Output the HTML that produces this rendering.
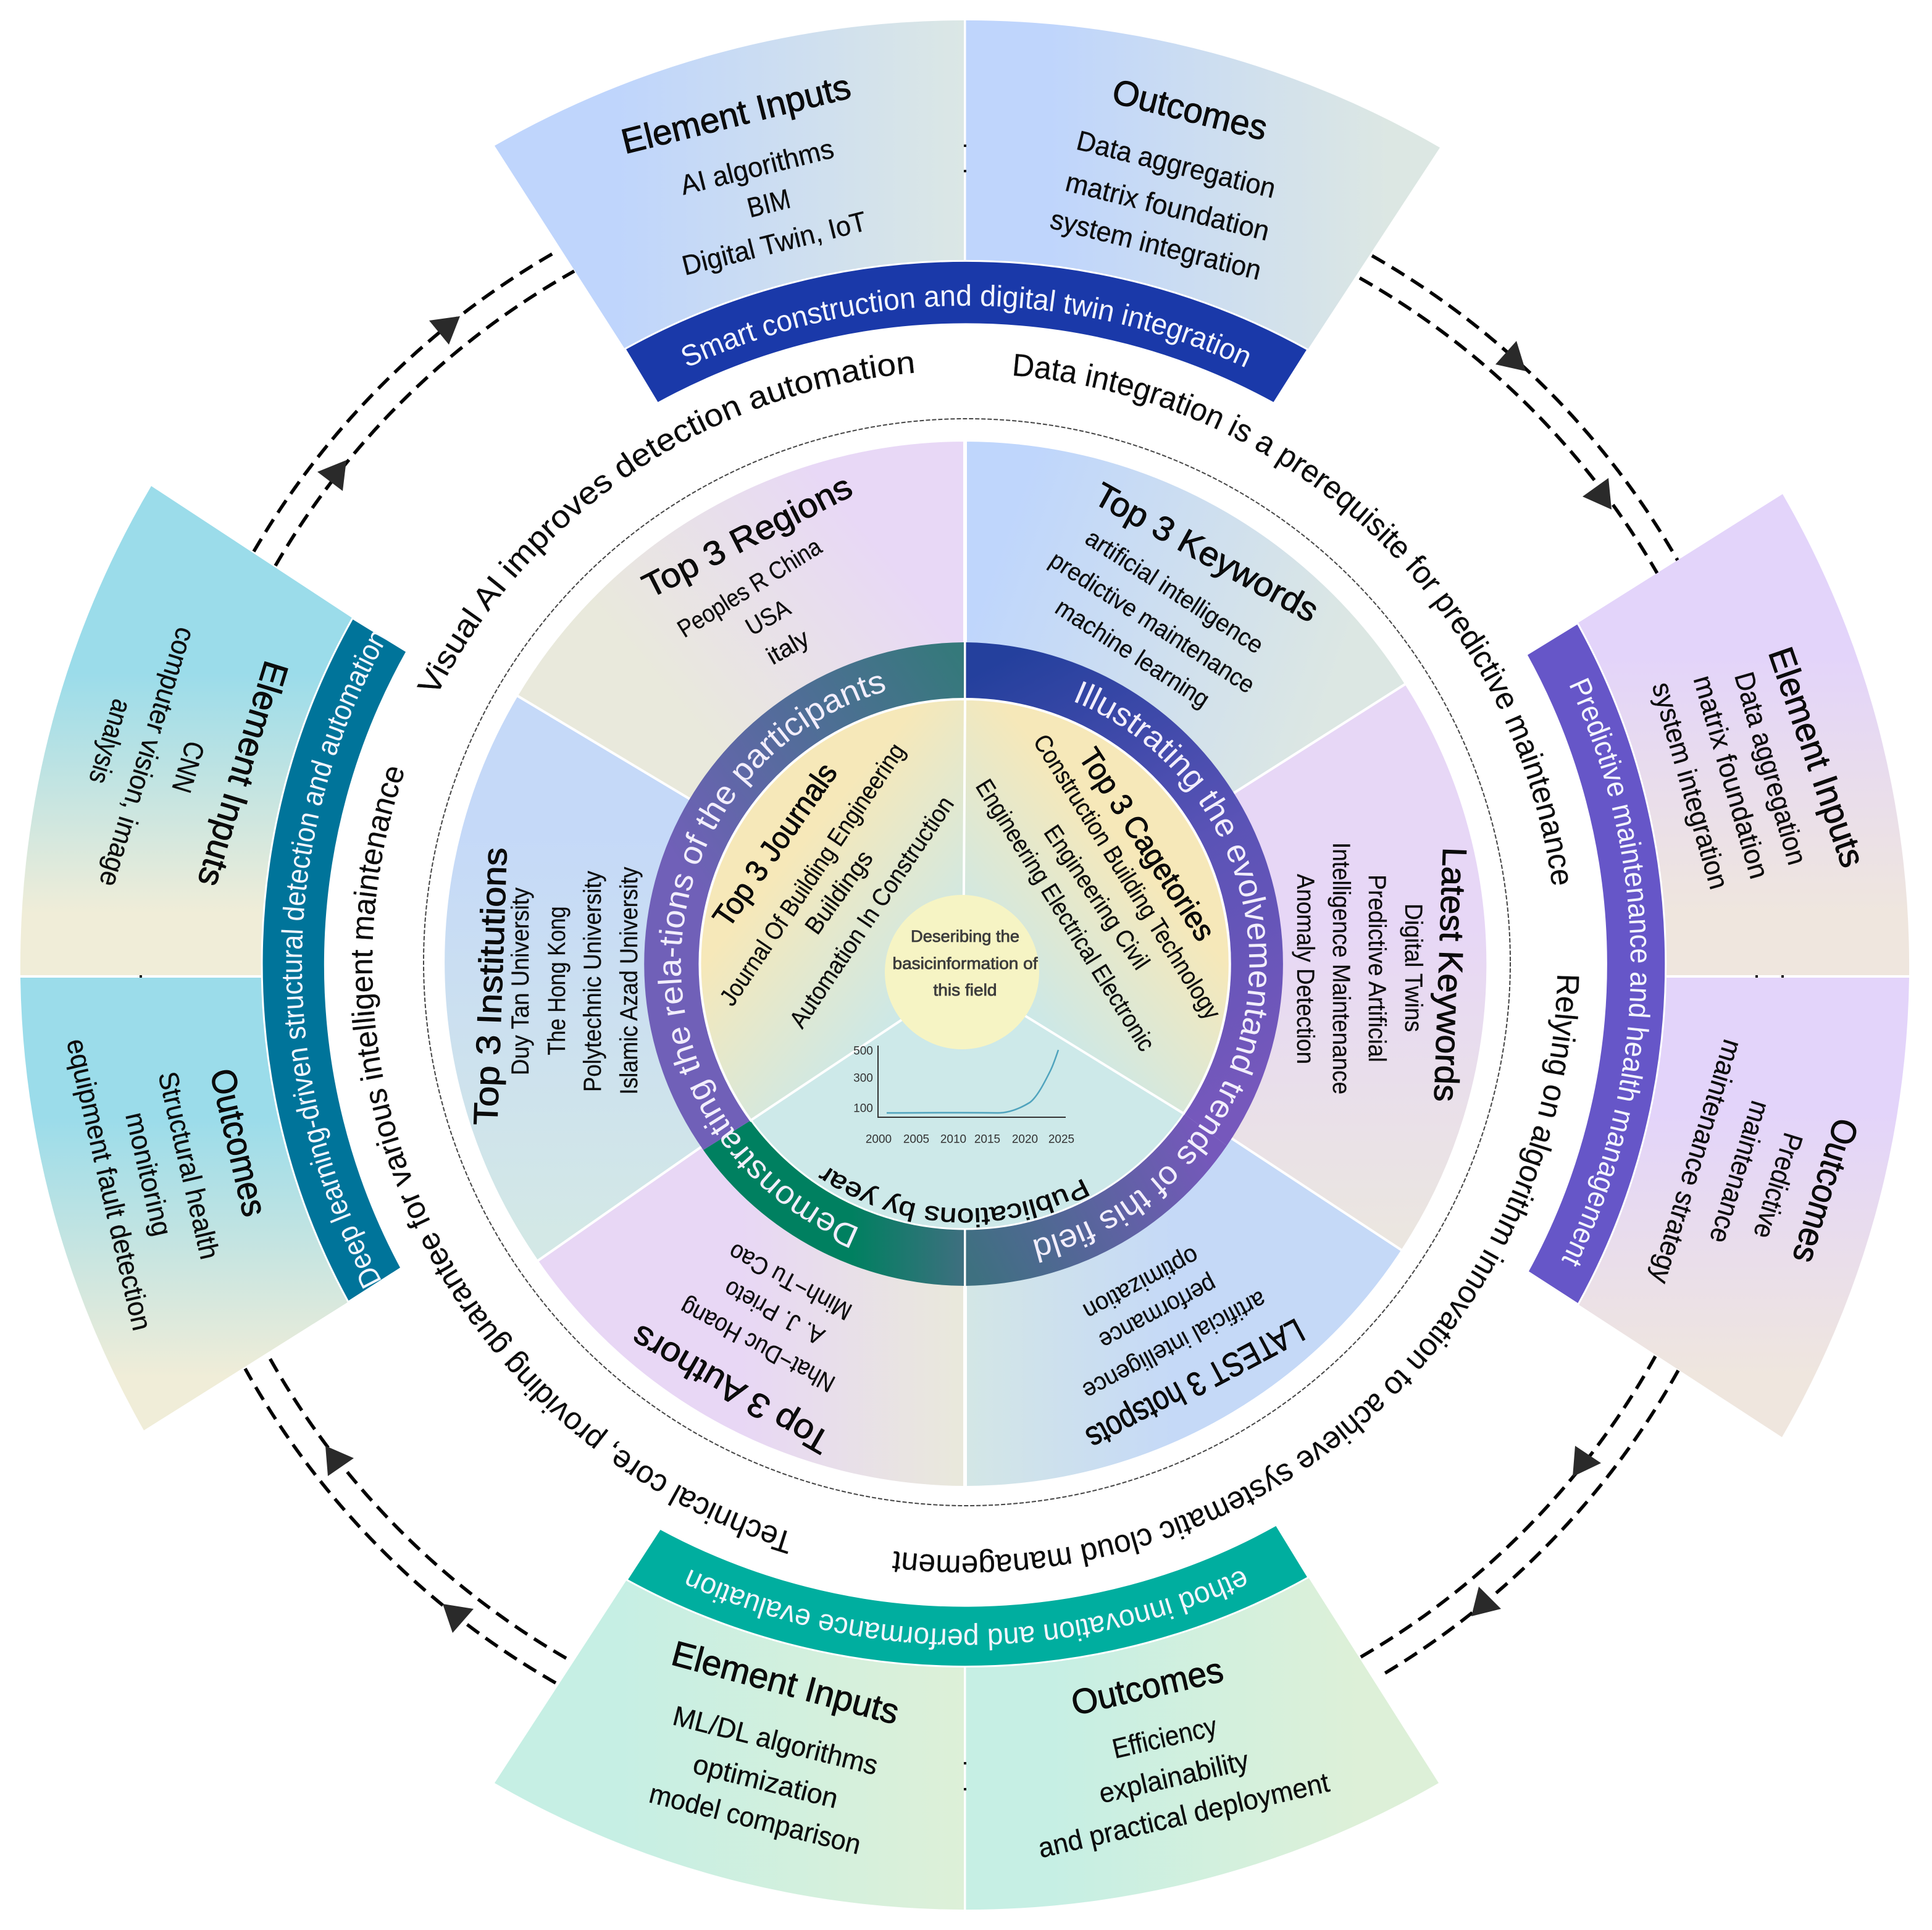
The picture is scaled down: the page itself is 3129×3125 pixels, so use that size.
<!DOCTYPE html>
<html><head><meta charset="utf-8"><title>Diagram</title>
<style>
html,body{margin:0;padding:0;background:#fff}
svg{display:block}
text{font-family:"Liberation Sans","DejaVu Sans",sans-serif;text-anchor:middle;fill:#0c0c0c}
.c text,text.c{dominant-baseline:central}
.t{font-size:57px;stroke:#000;stroke-width:.9px}
.b{font-size:45px;stroke:#000;stroke-width:.3px}
.mt{font-size:55px;stroke:#000;stroke-width:.9px}
.m{font-size:40px;stroke:#000;stroke-width:.25px}
.w{fill:#f4f6ff;font-size:48px}
.r{font-size:51px;stroke:#000;stroke-width:.2px}
.rw{fill:#f2eefc;font-size:53px}
.ch{font-size:19px;fill:#333}
.h{font-size:27px;fill:#3c3c3c;stroke:#3c3c3c;stroke-width:.8px}
.arc{fill:none;stroke:#000;stroke-width:5.5;stroke-dasharray:24 13}
</style></head><body>
<svg xmlns="http://www.w3.org/2000/svg" width="3129" height="3125" viewBox="0 0 3129 3125">
<defs>
<linearGradient id="gTop" gradientUnits="userSpaceOnUse" x1="1000" y1="0" x2="1560" y2="0"><stop offset="0" stop-color="#bfd5fc"/><stop offset="1" stop-color="#dbe7e5"/></linearGradient>
<linearGradient id="gTop2" gradientUnits="userSpaceOnUse" x1="1700" y1="0" x2="2250" y2="0"><stop offset="0" stop-color="#bfd5fc"/><stop offset="1" stop-color="#dce7e3"/></linearGradient>
<linearGradient id="gL1" gradientUnits="userSpaceOnUse" x1="0" y1="1090" x2="0" y2="1480"><stop offset="0" stop-color="#9bdcea"/><stop offset="1" stop-color="#f0edd8"/></linearGradient>
<linearGradient id="gL2" gradientUnits="userSpaceOnUse" x1="0" y1="1810" x2="0" y2="2230"><stop offset="0" stop-color="#9bdcea"/><stop offset="1" stop-color="#f0edd8"/></linearGradient>
<linearGradient id="gR1" gradientUnits="userSpaceOnUse" x1="0" y1="1060" x2="0" y2="1480"><stop offset="0" stop-color="#e3d4fa"/><stop offset="1" stop-color="#efe6de"/></linearGradient>
<linearGradient id="gR2" gradientUnits="userSpaceOnUse" x1="0" y1="1800" x2="0" y2="2230"><stop offset="0" stop-color="#e3d4fa"/><stop offset="1" stop-color="#efe6de"/></linearGradient>
<linearGradient id="gB1" gradientUnits="userSpaceOnUse" x1="1000" y1="0" x2="1560" y2="0"><stop offset="0" stop-color="#c6efe4"/><stop offset="1" stop-color="#ddf0d8"/></linearGradient>
<linearGradient id="gB2" gradientUnits="userSpaceOnUse" x1="1700" y1="0" x2="2200" y2="0"><stop offset="0" stop-color="#c6efe4"/><stop offset="1" stop-color="#ddf0d8"/></linearGradient>
<linearGradient id="sTR" gradientUnits="userSpaceOnUse" x1="1650" y1="800" x2="2200" y2="1000"><stop offset="0" stop-color="#bfd6fc"/><stop offset="1" stop-color="#dce7e3"/></linearGradient>
<linearGradient id="sR" gradientUnits="userSpaceOnUse" x1="0" y1="1500" x2="0" y2="2000"><stop offset="0" stop-color="#e7d7f6"/><stop offset="1" stop-color="#ebe6e0"/></linearGradient>
<linearGradient id="sLR" gradientUnits="userSpaceOnUse" x1="1570" y1="0" x2="1900" y2="0"><stop offset="0" stop-color="#d3e6e6"/><stop offset="1" stop-color="#c5d9f7"/></linearGradient>
<linearGradient id="sLL" gradientUnits="userSpaceOnUse" x1="1200" y1="0" x2="1550" y2="0"><stop offset="0" stop-color="#e8d7f5"/><stop offset="1" stop-color="#e9e8dc"/></linearGradient>
<linearGradient id="sL" gradientUnits="userSpaceOnUse" x1="0" y1="1350" x2="0" y2="2000"><stop offset="0" stop-color="#c5d9f8"/><stop offset="1" stop-color="#d3e8e6"/></linearGradient>
<linearGradient id="sTL" gradientUnits="userSpaceOnUse" x1="1400" y1="850" x2="1080" y2="1120"><stop offset="0" stop-color="#e8d8f6"/><stop offset="1" stop-color="#e9e9dc"/></linearGradient>
<linearGradient id="rTR" gradientUnits="userSpaceOnUse" x1="1600" y1="1080" x2="1980" y2="1800"><stop offset="0" stop-color="#24409d"/><stop offset=".5" stop-color="#5a53b6"/><stop offset="1" stop-color="#7658bc"/></linearGradient>
<linearGradient id="rBR" gradientUnits="userSpaceOnUse" x1="1950" y1="1850" x2="1566" y2="2040"><stop offset="0" stop-color="#7558bb"/><stop offset="1" stop-color="#3e7080"/></linearGradient>
<linearGradient id="rBL" gradientUnits="userSpaceOnUse" x1="1380" y1="0" x2="1563" y2="0"><stop offset="0" stop-color="#008060"/><stop offset="1" stop-color="#3f6f80"/></linearGradient>
<linearGradient id="rL" gradientUnits="userSpaceOnUse" x1="1563" y1="1080" x2="1100" y2="1400"><stop offset="0" stop-color="#35797b"/><stop offset="1" stop-color="#7060b8"/></linearGradient>
<linearGradient id="iL" gradientUnits="userSpaceOnUse" x1="1270" y1="1400" x2="1500" y2="1590"><stop offset="0" stop-color="#f6e8b9"/><stop offset="1" stop-color="#cde8e6"/></linearGradient>
<linearGradient id="iR" gradientUnits="userSpaceOnUse" x1="1850" y1="1400" x2="1630" y2="1590"><stop offset="0" stop-color="#f6e8b9"/><stop offset="1" stop-color="#cde8e6"/></linearGradient>
<path id="p1067" d="M1565,495 A1067 1067 0 1 1 1565,2629 A1067 1067 0 1 1 1565,495 A1067 1067 0 1 1 1565,2629 A1067 1067 0 1 1 1565,495"/>
<path id="p1076" d="M1565,486 A1076 1076 0 1 1 1565,2638 A1076 1076 0 1 1 1565,486 A1076 1076 0 1 1 1565,2638 A1076 1076 0 1 1 1565,486"/>
<path id="p957" d="M1565,605 A957 957 0 1 1 1565,2519 A957 957 0 1 1 1565,605 A957 957 0 1 1 1565,2519 A957 957 0 1 1 1565,605"/>
<path id="p962" d="M1565,600 A962 962 0 1 1 1565,2524 A962 962 0 1 1 1565,600 A962 962 0 1 1 1565,2524 A962 962 0 1 1 1565,600"/>
<path id="p460" d="M1563,1101 A460 460 0 1 1 1563,2021 A460 460 0 1 1 1563,1101 A460 460 0 1 1 1563,2021 A460 460 0 1 1 1563,1101"/>
<path id="p390" d="M1563,1165 A396 396 0 1 1 1563,1957 A396 396 0 1 1 1563,1165 A396 396 0 1 1 1563,1957 A396 396 0 1 1 1563,1165"/>
<clipPath id="cLB"><path d="M571,1001 A1140 1140 0 0 0 564,2108 L650,2053 A1036 1036 0 0 1 659,1055 Z"/></clipPath>
</defs>
<rect width="3129" height="3125" fill="#fff"/>

<!-- dashed connectors -->
<path class="arc" d="M411,893 A1330 1330 0 0 1 905,405"/>
<path class="arc" d="M446,916 A1290 1290 0 0 1 930,439"/>
<path class="arc" d="M2222,414 A1330 1330 0 0 1 2718,909"/>
<path class="arc" d="M2202,450 A1290 1290 0 0 1 2685,930"/>
<path class="arc" d="M2718,2219 A1327 1327 0 0 1 2235,2714"/>
<path class="arc" d="M2681,2196 A1285 1285 0 0 1 2202,2684"/>
<path class="arc" d="M900,2725 A1330 1330 0 0 1 397,2216"/>
<path class="arc" d="M917,2685 A1290 1290 0 0 1 434,2194"/>
<g fill="#2a2a2a">
<polygon points="695,519 745,512 727,558"/><polygon points="514,764 561,745 555,795"/>
<polygon points="2456,552 2471,601 2422,590"/><polygon points="2605,774 2610,825 2563,804"/>
<polygon points="2551,2341 2593,2369 2547,2391"/><polygon points="2395,2569 2431,2605 2383,2617"/>
<polygon points="527,2341 573,2361 531,2390"/><polygon points="717,2597 767,2605 733,2644"/>
</g>

<!-- outer sectors -->
<path fill="url(#gTop)" d="M801,236 A1530 1530 0 0 1 1561,33 L1561,421 A1140 1140 0 0 0 1012,565 Z"/>
<path fill="url(#gTop2)" d="M1564.5,33 A1530 1530 0 0 1 2332,239 L2118,566 A1140 1140 0 0 0 1564.5,421 Z"/>
<path fill="#1a39a9" stroke="#fff" stroke-width="3" d="M1012,565 A1140 1140 0 0 1 2118,566 L2063,653 A1036 1036 0 0 0 1065,653 Z"/>
<path fill="url(#gB1)" d="M801,2887 A1530 1530 0 0 0 1561,3092 L1561,2699 A1140 1140 0 0 1 1015,2558 Z"/>
<path fill="url(#gB2)" d="M1564.5,3092 A1530 1530 0 0 0 2330,2887 L2119,2554 A1140 1140 0 0 1 1564.5,2699 Z"/>
<path fill="#00ae9f" stroke="#fff" stroke-width="3" d="M1015,2558 A1140 1140 0 0 0 2119,2554 L2067,2469 A1036 1036 0 0 1 1069,2475 Z"/>
<path fill="url(#gL1)" d="M245,787 A1530 1530 0 0 0 33,1579 L426,1579 A1140 1140 0 0 1 571,1001 Z"/>
<path fill="url(#gL2)" d="M33,1583 A1530 1530 0 0 0 233,2316 L564,2108 A1140 1140 0 0 1 426,1583 Z"/>
<path fill="#00749a" stroke="#fff" stroke-width="3" d="M571,1001 A1140 1140 0 0 0 564,2108 L650,2053 A1036 1036 0 0 1 659,1055 Z"/>
<path fill="url(#gR1)" d="M2887,800 A1530 1530 0 0 1 3092,1579 L2698,1579 A1140 1140 0 0 0 2555,1009 Z"/>
<path fill="url(#gR2)" d="M3092,1583 A1530 1530 0 0 1 2886,2327 L2556,2112 A1140 1140 0 0 0 2698,1583 Z"/>
<path fill="#6656c8" stroke="#fff" stroke-width="3" d="M2555,1009 A1140 1140 0 0 1 2556,2112 L2474,2059 A1036 1036 0 0 0 2472,1060 Z"/>
<g fill="#111">
<rect x="1561" y="234" width="4" height="4"/><rect x="1561" y="275" width="4" height="4"/>
<rect x="1561" y="2853" width="4" height="4"/><rect x="1561" y="2895" width="4" height="4"/>
<rect x="226" y="1579" width="4" height="4"/><rect x="2843" y="1579" width="4" height="4"/><rect x="2885" y="1579" width="4" height="4"/>
</g>

<!-- dashed guide circle -->
<circle cx="1566" cy="1558" r="880" fill="none" stroke="#444" stroke-width="2" stroke-dasharray="7 3"/>

<!-- six middle sectors -->
<g stroke="#fff" stroke-width="4">
<path fill="url(#sTR)" d="M1564,713 A846 846 0 0 1 2277,1107 L1564,1560 Z"/>
<path fill="url(#sR)" d="M2277,1107 A846 846 0 0 1 2271,2025 L1564,1560 Z"/>
<path fill="url(#sLR)" d="M2271,2025 A846 846 0 0 1 1564,2408 L1564,1560 Z"/>
<path fill="url(#sLL)" d="M1562,2408 A846 846 0 0 1 870,2042 L1562,1560 Z"/>
<path fill="url(#sL)" d="M870,2042 A846 846 0 0 1 837,1126 L1562,1560 Z"/>
<path fill="url(#sTL)" d="M837,1126 A846 846 0 0 1 1562,713 L1562,1560 Z"/>
</g>

<!-- ring -->
<path fill="url(#rTR)" d="M1564.5,1040 A521 521 0 0 1 1987,1855 L1917,1803 A430 430 0 0 0 1564.5,1131 Z"/>
<path fill="url(#rBR)" d="M1987,1855 A521 521 0 0 1 1564.5,2082 L1564.5,1991 A430 430 0 0 0 1917,1803 Z"/>
<path fill="url(#rBL)" d="M1561,2082 A521 521 0 0 1 1139,1862 L1216,1814 A430 430 0 0 0 1561,1991 Z"/>
<path fill="url(#rL)" d="M1139,1862 A521 521 0 0 1 1561,1040 L1561,1131 A430 430 0 0 0 1216,1814 Z"/>

<!-- inner disc -->
<circle cx="1563" cy="1561" r="429" fill="#cde9e9" stroke="#fff" stroke-width="3"/>
<path fill="url(#iL)" stroke="#fff" stroke-width="4" d="M1563,1132 L1563,1583 L1216,1814 A429 429 0 0 1 1563,1132 Z"/>
<path fill="url(#iR)" stroke="#fff" stroke-width="4" d="M1563,1132 A429 429 0 0 1 1917,1803 L1560,1583 L1563,1132 Z"/>
<circle cx="1558" cy="1574" r="125" fill="#f6f4c4"/>

<!-- chart -->
<path d="M1422,1693 V1809 H1726" fill="none" stroke="#333" stroke-width="2"/>
<path d="M1436,1802 C1500,1802 1560,1801 1616,1802 C1632,1802 1650,1796 1668,1785 C1680,1776 1692,1752 1701,1734 C1706,1724 1710,1712 1714,1700" fill="none" stroke="#4fa3bd" stroke-width="2.5"/>
<g class="c">
<text class="ch" x="1398" y="1702">500</text><text class="ch" x="1398" y="1746">300</text><text class="ch" x="1398" y="1795">100</text>
<text class="ch" x="1423" y="1845">2000</text><text class="ch" x="1484" y="1845">2005</text><text class="ch" x="1544" y="1845">2010</text><text class="ch" x="1599" y="1845">2015</text><text class="ch" x="1660" y="1845">2020</text><text class="ch" x="1719" y="1845">2025</text>
<text class="h" x="1563" y="1516" textLength="176" lengthAdjust="spacingAndGlyphs">Deseribing the</text>
<text class="h" x="1563" y="1560" textLength="235" lengthAdjust="spacingAndGlyphs">basicinformation of</text>
<text class="h" x="1563" y="1603" textLength="103" lengthAdjust="spacingAndGlyphs">this field</text>
</g>

<!-- curved labels -->
<text class="w"><textPath href="#p1067" startOffset="50%" textLength="935" lengthAdjust="spacingAndGlyphs">Smart construction and digital twin integration</textPath></text>
<text class="w"><textPath href="#p1076" startOffset="12.6%" textLength="965" lengthAdjust="spacingAndGlyphs">Predictive maintenance and health management</textPath></text>
<g clip-path="url(#cLB)"><text class="w"><textPath href="#p1076" startOffset="37.58%" textLength="1090" lengthAdjust="spacingAndGlyphs">Deep learning-driven structural detection and automation</textPath></text></g>
<text class="w"><textPath href="#p1076" startOffset="25%" textLength="925" lengthAdjust="spacingAndGlyphs">ethod innovation and performance evaluation</textPath></text>
<text class="r"><textPath href="#p957" startOffset="6.03%" textLength="1304" lengthAdjust="spacingAndGlyphs">Data integration is a prerequisite for predictive maintenance</textPath></text>
<text class="r"><textPath href="#p957" startOffset="19.3%" textLength="1607" lengthAdjust="spacingAndGlyphs">Relying on algorithm innovation to achieve systematic cloud management</textPath></text>
<text class="r"><textPath href="#p962" startOffset="33.75%" textLength="1551" lengthAdjust="spacingAndGlyphs">Technical core, providing guarantee for various intelligent maintenance</textPath></text>
<text class="r"><textPath href="#p962" startOffset="45.27%" textLength="980" lengthAdjust="spacingAndGlyphs">Visual AI improves detection automation</textPath></text>
<text class="rw"><textPath href="#p460" startOffset="13.1%" textLength="1160" lengthAdjust="spacingAndGlyphs">Illustrating the evolvementand trends of this field</textPath></text>
<text class="rw"><textPath href="#p460" startOffset="37.9%" textLength="1145" lengthAdjust="spacingAndGlyphs">Demonstrating the rela-tions of the  participants</textPath></text>
<text class="r" style="font-size:42px;stroke:#000;stroke-width:.7px"><textPath href="#p390" startOffset="25.4%" textLength="440" lengthAdjust="spacingAndGlyphs">Publications by year</textPath></text>

<!-- straight labels -->
<g class="c">
<!-- top -->
<text class="t" transform="translate(1192 185) rotate(-14)" textLength="380" lengthAdjust="spacingAndGlyphs">Element Inputs</text>
<text class="b" transform="translate(1226 270) rotate(-14)" textLength="254" lengthAdjust="spacingAndGlyphs">AI algorithms</text>
<text class="b" transform="translate(1245 329) rotate(-14)" textLength="70" lengthAdjust="spacingAndGlyphs">BIM</text>
<text class="b" transform="translate(1254 394) rotate(-14)" textLength="306" lengthAdjust="spacingAndGlyphs">Digital Twin, IoT</text>
<text class="t" transform="translate(1927 178) rotate(14)" textLength="256" lengthAdjust="spacingAndGlyphs">Outcomes</text>
<text class="b" transform="translate(1905 266) rotate(14)" textLength="330" lengthAdjust="spacingAndGlyphs">Data aggregation</text>
<text class="b" transform="translate(1891 334) rotate(14)" textLength="338" lengthAdjust="spacingAndGlyphs">matrix foundation</text>
<text class="b" transform="translate(1872 396) rotate(14)" textLength="350" lengthAdjust="spacingAndGlyphs">system integration</text>
<!-- left -->
<text class="t" transform="translate(393 1253) rotate(107)" textLength="378" lengthAdjust="spacingAndGlyphs">Element Inputs</text>
<text class="b" transform="translate(305 1242) rotate(107)" textLength="84" lengthAdjust="spacingAndGlyphs">CNN</text>
<text class="b" transform="translate(239 1226) rotate(107)" textLength="436" lengthAdjust="spacingAndGlyphs">computer vision, image</text>
<text class="b" transform="translate(179 1201) rotate(107)" textLength="140" lengthAdjust="spacingAndGlyphs">analysis</text>
<text class="t" transform="translate(386 1850) rotate(77)" textLength="243" lengthAdjust="spacingAndGlyphs">Outcomes</text>
<text class="b" transform="translate(306 1887) rotate(77)" textLength="310" lengthAdjust="spacingAndGlyphs">Structural health</text>
<text class="b" transform="translate(241 1901) rotate(77)" textLength="204" lengthAdjust="spacingAndGlyphs">monitoring</text>
<text class="b" transform="translate(177 1918) rotate(77)" textLength="483" lengthAdjust="spacingAndGlyphs">equipment fault detection</text>
<!-- right -->
<text class="t" transform="translate(2942 1226) rotate(71)" textLength="372" lengthAdjust="spacingAndGlyphs">Element Inputs</text>
<text class="b" transform="translate(2868 1244) rotate(74)" textLength="322" lengthAdjust="spacingAndGlyphs">Data aggregation</text>
<text class="b" transform="translate(2804 1258) rotate(74)" textLength="340" lengthAdjust="spacingAndGlyphs">matrix foundation</text>
<text class="b" transform="translate(2738 1272) rotate(74)" textLength="346" lengthAdjust="spacingAndGlyphs">system integration</text>
<text class="t" transform="translate(2956 1928) rotate(107)" textLength="241" lengthAdjust="spacingAndGlyphs">Outcomes</text>
<text class="b" transform="translate(2880 1920) rotate(107)" textLength="176" lengthAdjust="spacingAndGlyphs">Predictive</text>
<text class="b" transform="translate(2818 1898) rotate(107)" textLength="238" lengthAdjust="spacingAndGlyphs">maintenance</text>
<text class="b" transform="translate(2748 1881) rotate(107)" textLength="410" lengthAdjust="spacingAndGlyphs">maintenance strategy</text>
<!-- bottom -->
<text class="t" transform="translate(1272 2725) rotate(15)" textLength="378" lengthAdjust="spacingAndGlyphs">Element Inputs</text>
<text class="b" transform="translate(1256 2818) rotate(14)" textLength="340" lengthAdjust="spacingAndGlyphs">ML/DL algorithms</text>
<text class="b" transform="translate(1240 2884) rotate(14)" textLength="240" lengthAdjust="spacingAndGlyphs">optimization</text>
<text class="b" transform="translate(1223 2945) rotate(14)" textLength="351" lengthAdjust="spacingAndGlyphs">model comparison</text>
<text class="t" transform="translate(1858 2731) rotate(-13)" textLength="250" lengthAdjust="spacingAndGlyphs">Outcomes</text>
<text class="b" transform="translate(1886 2813) rotate(-13)" textLength="172" lengthAdjust="spacingAndGlyphs">Efficiency</text>
<text class="b" transform="translate(1901 2877) rotate(-13)" textLength="247" lengthAdjust="spacingAndGlyphs">explainability</text>
<text class="b" transform="translate(1917 2939) rotate(-13)" textLength="482" lengthAdjust="spacingAndGlyphs">and practical deployment</text>
<!-- middle ring sectors -->
<text class="mt" transform="translate(1954 894) rotate(29)" textLength="405" lengthAdjust="spacingAndGlyphs">Top 3 Keywords</text>
<text class="m" transform="translate(1902 958) rotate(33)" textLength="334" lengthAdjust="spacingAndGlyphs">artificial intelligence</text>
<text class="m" transform="translate(1866 1008) rotate(33)" textLength="386" lengthAdjust="spacingAndGlyphs">predictive maintenance</text>
<text class="m" transform="translate(1834 1058) rotate(33)" textLength="288" lengthAdjust="spacingAndGlyphs">machine learning</text>
<text class="mt" transform="translate(1210 868) rotate(-27)" textLength="372" lengthAdjust="spacingAndGlyphs">Top 3 Regions</text>
<text class="m" transform="translate(1214 952) rotate(-32)" textLength="266" lengthAdjust="spacingAndGlyphs">Peoples R China</text>
<text class="m" transform="translate(1244 1000) rotate(-30)" textLength="76" lengthAdjust="spacingAndGlyphs">USA</text>
<text class="m" transform="translate(1276 1048) rotate(-30)" textLength="72" lengthAdjust="spacingAndGlyphs">italy</text>
<text class="mt" transform="translate(794 1597) rotate(-88)" textLength="450" lengthAdjust="spacingAndGlyphs">Top 3 Institutions</text>
<text class="m" transform="translate(843 1589) rotate(-90)" textLength="304" lengthAdjust="spacingAndGlyphs">Duy Tan University</text>
<text class="m" transform="translate(902 1588) rotate(-90)" textLength="241" lengthAdjust="spacingAndGlyphs">The Hong Kong</text>
<text class="m" transform="translate(960 1589) rotate(-90)" textLength="358" lengthAdjust="spacingAndGlyphs">Polytechnic University</text>
<text class="m" transform="translate(1019 1588) rotate(-90)" textLength="369" lengthAdjust="spacingAndGlyphs">Islamic Azad University</text>
<text class="mt" transform="translate(2349 1578) rotate(92)" textLength="412" lengthAdjust="spacingAndGlyphs">Latest Keywords</text>
<text class="m" transform="translate(2289 1567) rotate(90)" textLength="208" lengthAdjust="spacingAndGlyphs">Digital Twins</text>
<text class="m" transform="translate(2230 1568) rotate(90)" textLength="304" lengthAdjust="spacingAndGlyphs">Predictive Artificial</text>
<text class="m" transform="translate(2172 1568) rotate(90)" textLength="408" lengthAdjust="spacingAndGlyphs">Intelligence Maintenance</text>
<text class="m" transform="translate(2114 1569) rotate(90)" textLength="308" lengthAdjust="spacingAndGlyphs">Anomaly Detection</text>
<text class="mt" transform="translate(1936 2242) rotate(152)" textLength="390" lengthAdjust="spacingAndGlyphs">LATEST 3 hotspots</text>
<text class="m" transform="translate(1902 2178) rotate(152)" textLength="330" lengthAdjust="spacingAndGlyphs">artificial intelligence</text>
<text class="m" transform="translate(1875 2125) rotate(152)" textLength="209" lengthAdjust="spacingAndGlyphs">performance</text>
<text class="m" transform="translate(1848 2078) rotate(152)" textLength="205" lengthAdjust="spacingAndGlyphs">optimization</text>
<text class="mt" transform="translate(1183 2250) rotate(210)" textLength="360" lengthAdjust="spacingAndGlyphs">Top 3 Authors</text>
<text class="m" transform="translate(1227 2178) rotate(208)" textLength="277" lengthAdjust="spacingAndGlyphs">Nhat−Duc Hoang</text>
<text class="m" transform="translate(1254 2125) rotate(208)" textLength="177" lengthAdjust="spacingAndGlyphs">A. J. Prieto</text>
<text class="m" transform="translate(1280 2075) rotate(208)" textLength="219" lengthAdjust="spacingAndGlyphs">Minh−Tu Cao</text>
<!-- inner -->
<text class="mt" style="font-size:50px" transform="translate(1255 1368) rotate(-55)" textLength="310" lengthAdjust="spacingAndGlyphs">Top 3 Journals</text>
<text class="m" transform="translate(1316 1416) rotate(-56)" textLength="502" lengthAdjust="spacingAndGlyphs">Journal Of Building Engineering</text>
<text class="m" transform="translate(1359 1445) rotate(-54)" textLength="156" lengthAdjust="spacingAndGlyphs">Buildings</text>
<text class="m" transform="translate(1412 1477) rotate(-56)" textLength="442" lengthAdjust="spacingAndGlyphs">Automation In Construction</text>
<text class="mt" style="font-size:50px" transform="translate(1858 1367) rotate(57)" textLength="360" lengthAdjust="spacingAndGlyphs">Top 3 Cagetories</text>
<text class="m" transform="translate(1825 1420) rotate(58)" textLength="535" lengthAdjust="spacingAndGlyphs">Construction Building Technology</text>
<text class="m" transform="translate(1776 1453) rotate(56)" textLength="272" lengthAdjust="spacingAndGlyphs">Engineering Civil</text>
<text class="m" transform="translate(1725 1482) rotate(58)" textLength="510" lengthAdjust="spacingAndGlyphs">Engineering Electrical Electronic</text>
</g>
</svg>
</body></html>
